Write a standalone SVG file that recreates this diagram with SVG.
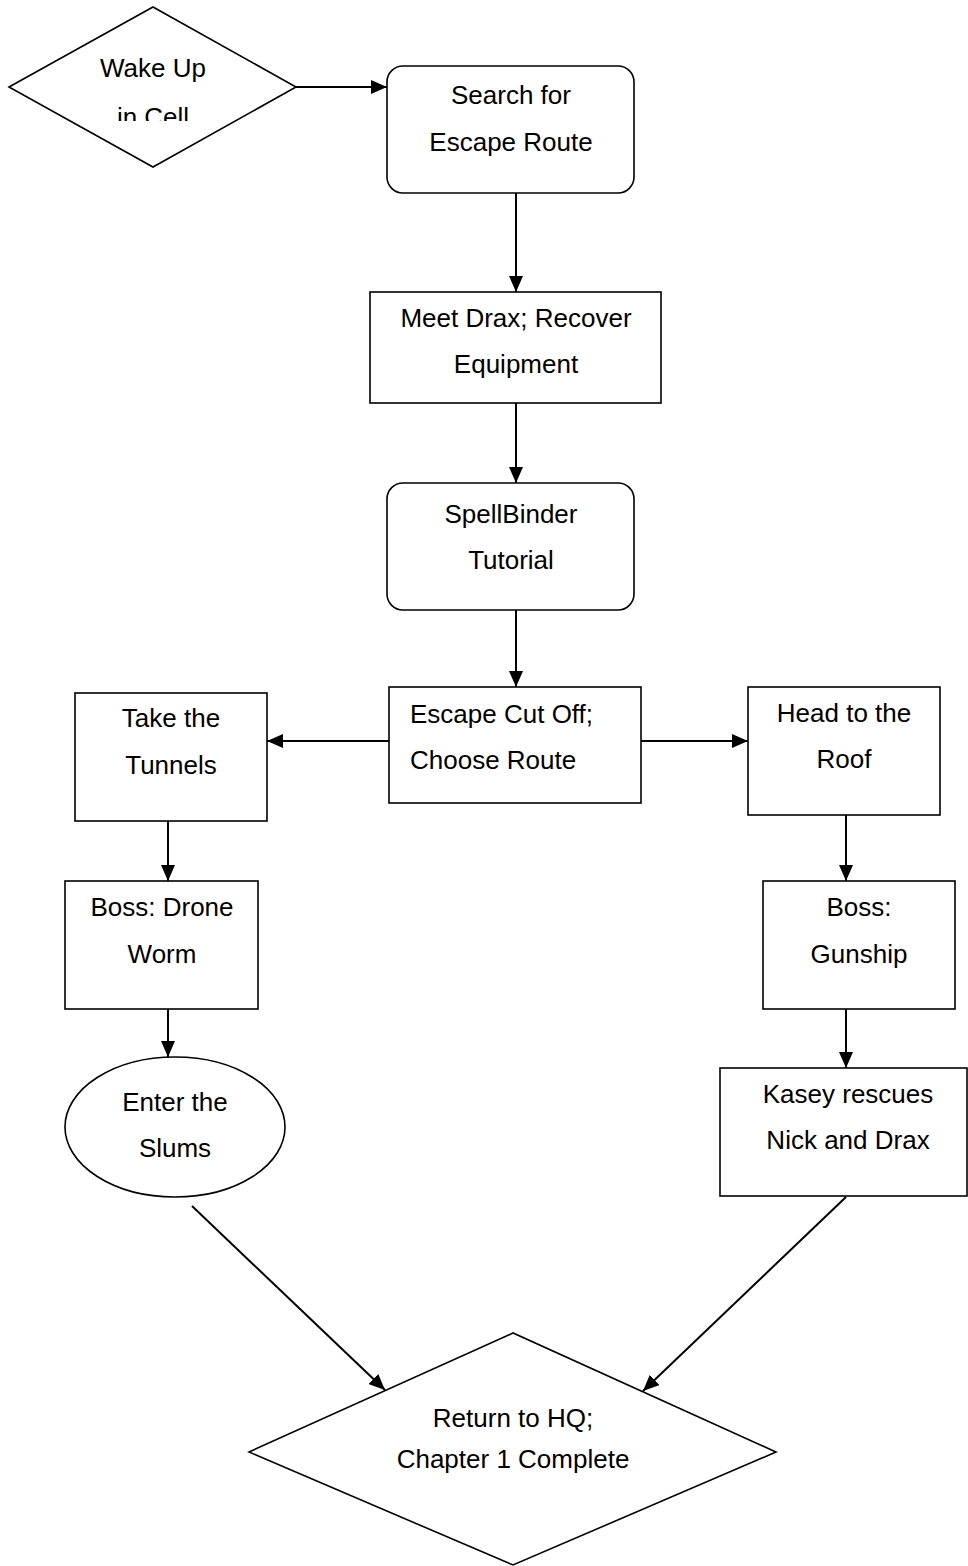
<svg xmlns="http://www.w3.org/2000/svg" width="968" height="1566" viewBox="0 0 968 1566">
<defs>
<marker id="ah" viewBox="0 0 10 10" refX="10" refY="5" markerWidth="8" markerHeight="7" markerUnits="strokeWidth" orient="auto" preserveAspectRatio="none">
<path d="M0,0 L10,5 L0,10 Z" fill="#000"/>
</marker>
<clipPath id="clipCell"><rect x="0" y="0" width="300" height="121"/></clipPath>
</defs>
<style>
.shape{fill:#fff;stroke:#000;stroke-width:1.6}
.lbl{font-family:"Liberation Sans",Arial,sans-serif;font-size:26px;fill:#000;text-anchor:middle}
.lft{text-anchor:start}
.conn{stroke:#000;stroke-width:2;fill:none;marker-end:url(#ah)}
</style>
<rect width="968" height="1566" fill="#fff"/>
<g id="connectors">
<line class="conn" x1="296" y1="87" x2="387" y2="87"/>
<line class="conn" x1="516" y1="193" x2="516" y2="292"/>
<line class="conn" x1="516" y1="403" x2="516" y2="483"/>
<line class="conn" x1="516" y1="610" x2="516" y2="687"/>
<line class="conn" x1="389" y1="741" x2="267" y2="741"/>
<line class="conn" x1="641" y1="741" x2="748" y2="741"/>
<line class="conn" x1="168" y1="821" x2="168" y2="881"/>
<line class="conn" x1="168" y1="1009" x2="168" y2="1057"/>
<line class="conn" x1="846" y1="815" x2="846" y2="881"/>
<line class="conn" x1="846" y1="1009" x2="846" y2="1068"/>
<line class="conn" x1="192" y1="1206" x2="385" y2="1390"/>
<line class="conn" x1="846" y1="1197" x2="643" y2="1391"/>
</g>
<g id="wake">
<polygon class="shape" points="9,87 153,7 296,87 153,167"/>
<text class="lbl" x="153" y="77">Wake Up</text>
<text class="lbl" x="153" y="126" clip-path="url(#clipCell)">in Cell</text>
</g>
<g id="search">
<rect class="shape" x="387" y="66" width="247" height="127" rx="16"/>
<text class="lbl" x="511" y="104">Search for</text>
<text class="lbl" x="511" y="151">Escape Route</text>
</g>
<g id="meet">
<rect class="shape" x="370" y="292" width="291" height="111"/>
<text class="lbl" x="516" y="327">Meet Drax; Recover</text>
<text class="lbl" x="516" y="373">Equipment</text>
</g>
<g id="spell">
<rect class="shape" x="387" y="483" width="247" height="127" rx="16"/>
<text class="lbl" x="511" y="523">SpellBinder</text>
<text class="lbl" x="511" y="569">Tutorial</text>
</g>
<g id="choose">
<rect class="shape" x="389" y="687" width="252" height="116"/>
<text class="lbl lft" x="410" y="723">Escape Cut Off;</text>
<text class="lbl lft" x="410" y="769">Choose Route</text>
</g>
<g id="tunnels">
<rect class="shape" x="75" y="693" width="192" height="128"/>
<text class="lbl" x="171" y="727">Take the</text>
<text class="lbl" x="171" y="774">Tunnels</text>
</g>
<g id="roof">
<rect class="shape" x="748" y="687" width="192" height="128"/>
<text class="lbl" x="844" y="722">Head to the</text>
<text class="lbl" x="844" y="768">Roof</text>
</g>
<g id="drone">
<rect class="shape" x="65" y="881" width="193" height="128"/>
<text class="lbl" x="162" y="916">Boss: Drone</text>
<text class="lbl" x="162" y="963">Worm</text>
</g>
<g id="slums">
<ellipse class="shape" cx="175" cy="1127" rx="110" ry="70"/>
<text class="lbl" x="175" y="1111">Enter the</text>
<text class="lbl" x="175" y="1157">Slums</text>
</g>
<g id="gunship">
<rect class="shape" x="763" y="881" width="192" height="128"/>
<text class="lbl" x="859" y="916">Boss:</text>
<text class="lbl" x="859" y="963">Gunship</text>
</g>
<g id="kasey">
<rect class="shape" x="720" y="1068" width="247" height="128"/>
<text class="lbl" x="848" y="1103">Kasey rescues</text>
<text class="lbl" x="848" y="1149">Nick and Drax</text>
</g>
<g id="hq">
<polygon class="shape" points="249,1452 513,1333 776,1452 513,1565"/>
<text class="lbl" x="513" y="1427">Return to HQ;</text>
<text class="lbl" x="513" y="1468">Chapter 1 Complete</text>
</g>
</svg>
